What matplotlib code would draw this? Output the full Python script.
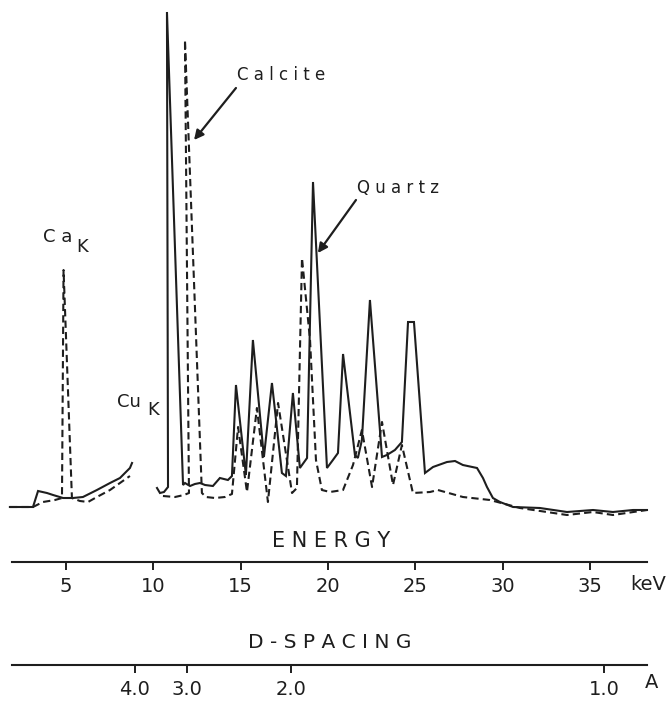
import matplotlib
matplotlib.use("Agg")
import matplotlib.pyplot as plt

plt.rcParams['font.family'] = ['DejaVu Sans']
INK = '#1e1e1e'

# solid trace (sample), energy in keV, intensity in arbitrary units
solid_lo_e = [1.79, 3.11, 3.40, 3.91, 4.26, 4.83, 5.40, 5.97, 6.77, 7.52, 8.09, 8.66, 8.78]
solid_lo_i = [13, 13, 29, 27, 25, 22, 22, 23, 30, 37, 42, 52, 57]

solid_hi_e = [10.21, 10.38, 10.61, 10.84, 10.78, 11.70, 11.81, 12.10, 12.38, 12.67, 12.96,
              13.41, 13.81, 14.27, 14.50, 14.73, 15.30, 15.70, 16.33, 16.79, 17.36, 17.59,
              17.99, 18.39, 18.80, 19.14, 19.94, 20.28, 20.57, 20.86, 21.54, 21.71, 21.94,
              22.40, 23.09, 23.37, 23.83, 24.23, 24.58, 24.92, 25.55, 26.01, 26.81, 27.27,
              27.72, 28.53, 28.87, 29.10, 29.44, 29.84, 30.59, 32.13, 33.68, 35.17, 36.31,
              37.46, 38.26]
solid_hi_i = [32, 27, 28, 33, 508, 35, 37, 34, 36, 37, 35,
              34, 42, 40, 44, 135, 45, 180, 63, 137, 47, 44,
              127, 52, 62, 338, 52, 60, 67, 166, 65, 62, 80,
              220, 63, 65, 70, 78, 198, 198, 47, 53, 58, 59,
              55, 52, 42, 33, 22, 18, 13, 12, 8, 10, 8,
              10, 10]

# dashed trace (reference)
dash_lo_e = [1.79, 3.11, 3.68, 4.37, 4.77, 4.86, 5.34, 5.80, 6.26, 6.77, 7.52, 8.09, 8.66]
dash_lo_i = [13, 13, 18, 20, 22, 250, 22, 19, 18, 23, 30, 37, 44]

dash_hi_e = [10.55, 11.24, 11.75, 12.04, 11.81, 12.78, 13.01, 13.53, 14.10, 14.50, 14.85,
             15.36, 15.93, 16.56, 17.14, 17.94, 18.22, 18.51, 18.97, 19.31, 19.65, 20.11,
             20.86, 21.43, 21.94, 22.52, 23.09, 23.72, 24.23, 24.86, 25.84, 26.29, 27.72,
             29.27, 30.99, 33.68, 35.17, 36.31, 38.26]
dash_hi_i = [24, 23, 25, 27, 480, 27, 23, 22, 23, 26, 93,
             28, 112, 18, 117, 27, 32, 262, 180, 60, 30, 28,
             30, 55, 90, 33, 98, 35, 75, 27, 28, 30, 23,
             20, 12, 5, 8, 5, 10]

energy_ticks = [5, 10, 15, 20, 25, 30, 35]
d_ticks = [4.0, 3.0, 2.0, 1.0]
d_const = 35.8  # keV * A for this geometry

W, H = 669, 704
xlim = (1.222, 39.52)

fig = plt.figure(figsize=(W / 100, H / 100), dpi=100)

ax = fig.add_axes([0, 1 - 520 / H, 1, 520 / H])
ax.plot(solid_lo_e, solid_lo_i, color=INK, lw=1.5, solid_joinstyle='miter')
ax.plot(solid_hi_e, solid_hi_i, color=INK, lw=1.5, solid_joinstyle='miter')
ax.plot(dash_lo_e, dash_lo_i, color=INK, lw=1.5, ls=(0, (3.5, 2)))
ax.plot(dash_hi_e, dash_hi_i, color=INK, lw=1.5, ls=(0, (3.5, 2)))
ax.set_xlim(*xlim)
ax.set_ylim(0, 520)
ax.axis('off')

arrow = dict(arrowstyle='-|>', lw=1.6, color=INK, mutation_scale=14, shrinkA=0, shrinkB=0)
ax.text(14.79, 445, 'C a l c i t e', fontsize=12, color=INK, ha='left', va='center')
ax.annotate('', xy=(12.33, 380), xytext=(14.73, 432), arrowprops=arrow)
ax.text(21.66, 332, 'Q u a r t z', fontsize=12, color=INK, ha='left', va='center')
ax.annotate('', xy=(19.42, 267), xytext=(21.60, 320), arrowprops=arrow)
ax.text(4.51, 283, 'C a', fontsize=13, color=INK, ha='center', va='center')
ax.text(5.95, 273, 'K', fontsize=13, color=INK, ha='center', va='center')
ax.text(8.63, 118, 'Cu', fontsize=13, color=INK, ha='center', va='center')
ax.text(10.0, 110, 'K', fontsize=13, color=INK, ha='center', va='center')


def scale_axis(ypix, ticks, labels):
    a = fig.add_axes([0, 1 - ypix / H, 1, 0.001])
    a.set_xlim(*xlim)
    a.set_ylim(0, 1)
    for s in ['top', 'left', 'right']:
        a.spines[s].set_visible(False)
    a.spines['bottom'].set_bounds(1.91, 38.26)
    a.spines['bottom'].set_linewidth(1.5)
    a.spines['bottom'].set_color(INK)
    a.set_yticks([])
    a.set_xticks(ticks)
    a.set_xticklabels(labels)
    a.tick_params(axis='x', direction='out', length=5.5, width=1.4, color=INK,
                  labelsize=14, labelcolor=INK, pad=5)
    a.patch.set_visible(False)
    return a


scale_axis(562, energy_ticks, [str(t) for t in energy_ticks])
scale_axis(665, [d_const / d for d in d_ticks], ['%.1f' % d for d in d_ticks])

fig.text(331 / W, 1 - 541 / H, 'E N E R G Y', fontsize=15, color=INK, ha='center', va='center')
fig.text(648 / W, 1 - 585 / H, 'keV', fontsize=14, color=INK, ha='center', va='center')
fig.text(330 / W, 1 - 642 / H, 'D - S P A C I N G', fontsize=14.5, color=INK, ha='center', va='center')
fig.text(652 / W, 1 - 682 / H, 'A', fontsize=14, color=INK, ha='center', va='center')

fig.savefig('out.png', dpi=100, facecolor='white')
